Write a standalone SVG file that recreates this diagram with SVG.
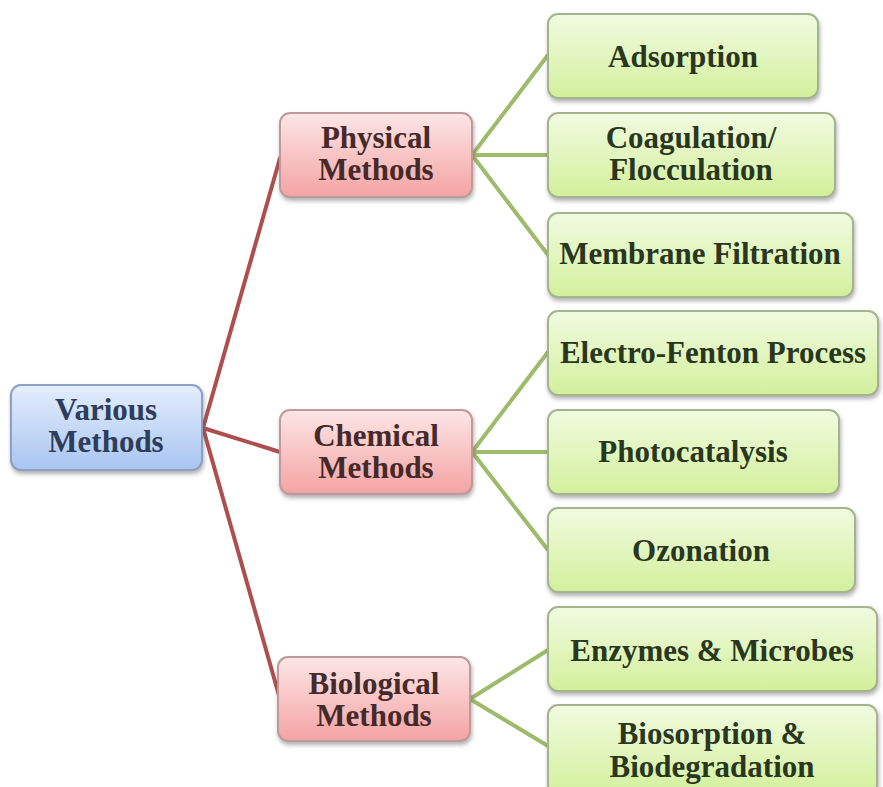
<svg xmlns="http://www.w3.org/2000/svg" width="883" height="787" viewBox="0 0 883 787">
<defs>
<linearGradient id="gBlue" x1="0" y1="0" x2="0" y2="1"><stop offset="0" stop-color="#e4eefd"/><stop offset="1" stop-color="#a9c5f0"/></linearGradient>
<linearGradient id="gPink" x1="0" y1="0" x2="0" y2="1"><stop offset="0" stop-color="#fde6e6"/><stop offset="1" stop-color="#f4a3a3"/></linearGradient>
<linearGradient id="gGreen" x1="0" y1="0" x2="0" y2="1"><stop offset="0" stop-color="#f1fbe0"/><stop offset="1" stop-color="#d3f09c"/></linearGradient>
<filter id="sh" x="-10%" y="-10%" width="120%" height="130%"><feDropShadow dx="1" dy="3" stdDeviation="2" flood-color="#555" flood-opacity="0.45"/></filter>
</defs>
<style>
.box{filter:url(#sh);stroke-width:2}
.blue{fill:url(#gBlue);stroke:#8da0c4}
.pink{fill:url(#gPink);stroke:#c09a9a}
.green{fill:url(#gGreen);stroke:#a5b38e}
text{font-family:"Liberation Serif","Times New Roman",serif;font-size:31px;font-weight:bold;text-anchor:middle}
.tb{fill:#2e3d5a}
.tp{fill:#442a2a}
.tg{fill:#2a3720}
.red{stroke:#ad4f4f;stroke-width:4;fill:none;stroke-linecap:round}
.grn{stroke:#9dbb6a;stroke-width:4;fill:none;stroke-linecap:round}
</style>
<rect width="883" height="787" fill="#ffffff"/>
<g id="connectors">
<path class="red" d="M203 428 L280 158 M203 428 L280 452 M203 428 L280 699"/>
<path class="grn" d="M472 155 L548 55 M472 155 L548 155 M472 155 L548 255"/>
<path class="grn" d="M472 452 L548 352 M472 452 L548 452 M472 452 L548 550"/>
<path class="grn" d="M470 699 L548 650 M470 699 L548 746"/>
</g>
<g id="various">
<rect class="box blue" x="11" y="385" width="191" height="85" rx="10"/>
<text class="tb" x="106" y="420">Various</text>
<text class="tb" x="106" y="452">Methods</text>
</g>
<g id="physical">
<rect class="box pink" x="280" y="113" width="192" height="84" rx="10"/>
<text class="tp" x="376" y="148">Physical</text>
<text class="tp" x="376" y="180">Methods</text>
</g>
<g id="chemical">
<rect class="box pink" x="280" y="410" width="192" height="84" rx="10"/>
<text class="tp" x="376" y="446">Chemical</text>
<text class="tp" x="376" y="478">Methods</text>
</g>
<g id="biological">
<rect class="box pink" x="278" y="657" width="192" height="84" rx="10"/>
<text class="tp" x="374" y="694">Biological</text>
<text class="tp" x="374" y="726">Methods</text>
</g>
<g id="adsorption">
<rect class="box green" x="548" y="14" width="270" height="84" rx="10"/>
<text class="tg" x="683" y="67">Adsorption</text>
</g>
<g id="coagulation">
<rect class="box green" x="548" y="113" width="287" height="84" rx="10"/>
<text class="tg" x="691" y="148">Coagulation/</text>
<text class="tg" x="691" y="180">Flocculation</text>
</g>
<g id="membrane">
<rect class="box green" x="548" y="213" width="305" height="84" rx="10"/>
<text class="tg" x="700" y="264">Membrane Filtration</text>
</g>
<g id="electro">
<rect class="box green" x="548" y="311" width="330" height="84" rx="10"/>
<text class="tg" x="713" y="363">Electro-Fenton Process</text>
</g>
<g id="photo">
<rect class="box green" x="548" y="410" width="291" height="84" rx="10"/>
<text class="tg" x="693" y="462">Photocatalysis</text>
</g>
<g id="ozonation">
<rect class="box green" x="548" y="508" width="307" height="84" rx="10"/>
<text class="tg" x="701" y="561">Ozonation</text>
</g>
<g id="enzymes">
<rect class="box green" x="548" y="607" width="329" height="84" rx="10"/>
<text class="tg" x="712" y="661">Enzymes &amp; Microbes</text>
</g>
<g id="biosorption">
<rect class="box green" x="548" y="705" width="329" height="90" rx="10"/>
<text class="tg" x="712" y="744">Biosorption &amp;</text>
<text class="tg" x="712" y="777">Biodegradation</text>
</g>
</svg>
